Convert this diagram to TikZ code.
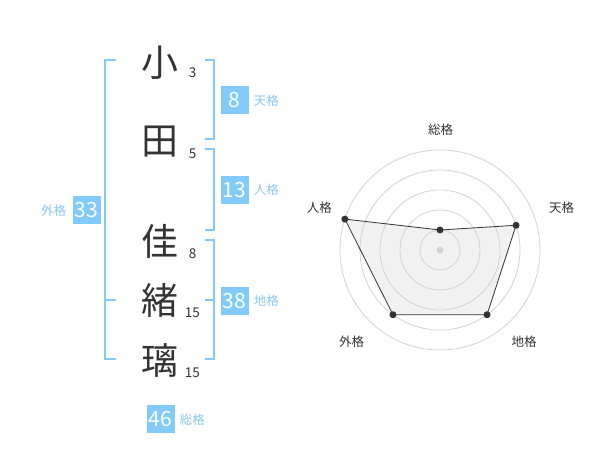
\documentclass[tikz,border=0pt]{standalone}
\usepackage{fontspec}
\setmainfont{Noto Sans CJK JP}
\definecolor{kakublue}{RGB}{130,202,250}
\definecolor{kakutext}{RGB}{135,200,242}
\definecolor{inkgray}{RGB}{51,51,51}
\definecolor{ringgray}{RGB}{210,210,210}
\definecolor{fillgray}{RGB}{241,241,241}
\usetikzlibrary{positioning}
\begin{document}
\begin{tikzpicture}[x=1pt,y=-1pt]
	\tikzstyle{every node}+=[inner sep=0pt]
	\tikzstyle{kanji}=[text=inkgray, font=\fontsize{37}{37}\selectfont]
	\tikzstyle{kakusu}=[text=inkgray, font=\fontsize{13.5}{13.5}\selectfont]
	\tikzstyle{kakubox}=[fill=kakublue, text=white, minimum size=28pt, font=\fontsize{21}{21}\selectfont]
	\tikzstyle{kakulabel}=[text=kakutext, font=\fontsize{12.5}{12.5}\selectfont]
	\tikzstyle{bracket}=[kakublue, line width=2pt]
	\tikzstyle{axislabel}=[text=inkgray, font=\fontsize{12.5}{12.5}\selectfont]
	\useasboundingbox (0,0) rectangle (600,470);
	
	% name
	\node[kanji] (ko) at (160,62.5) {小};
	\node[kanji] (ta) at (160,141.7) {田};
	\node[kanji] (ka) at (160,241) {佳};
	\node[kanji] (o) at (160,300) {緒};
	\node[kanji] (ri) at (160,360) {璃};
	\node[kakusu] (n1) at (192.7,72.7) {3};
	\node[kakusu] (n2) at (192.7,153.3) {5};
	\node[kakusu] (n3) at (192.7,253.3) {8};
	\node[kakusu] (n4) at (192.3,312.7) {15};
	\node[kakusu] (n5) at (192.3,372.7) {15};
	
	% brackets
	\draw[bracket] (116,60) -- (105,60) -- (105,359) -- (116,359);
	\draw[bracket] (105,300) -- (116,300);
	\draw[bracket] (205,60) -- (214,60) -- (214,139) -- (205,139);
	\draw[bracket] (205,149) -- (214,149) -- (214,230) -- (205,230);
	\draw[bracket] (205,240) -- (214,240) -- (214,359) -- (205,359);
	\draw[bracket] (205,300) -- (214,300);
	
	% boxes
	\node[kakubox] (gai) at (86.5,210.5) {33};
	\node[kakulabel, left=6pt of gai] {外格};
	\node[kakubox] (ten) at (234.5,100.3) {8};
	\node[kakulabel, right=5pt of ten] {天格};
	\node[kakubox] (jin) at (234.5,190) {13};
	\node[kakulabel, right=5pt of jin] {人格};
	\node[kakubox] (chi) at (234.5,300.7) {38};
	\node[kakulabel, right=5pt of chi] {地格};
	\node[kakubox] (sou) at (160.5,419.3) {46};
	\node[kakulabel, right=5pt of sou] {総格};
	
	% radar
	\begin{scope}[shift={(440,250)}, yscale=-1]
		\coordinate (psou) at (90:20);
		\coordinate (pten) at (18:80);
		\coordinate (pchi) at (-54:80);
		\coordinate (pgai) at (-126:80);
		\coordinate (pjin) at (162:100);
		\fill[fillgray] (psou) -- (pten) -- (pchi) -- (pgai) -- (pjin) -- cycle;
		\foreach \r in {20,40,...,100}
			\draw[ringgray, line width=0.8pt] (0,0) circle (\r);
		\fill[ringgray] (0,0) circle (3.5);
		\draw[inkgray, line width=0.8pt] (psou) -- (pten) -- (pchi) -- (pgai) -- (pjin) -- cycle;
		\foreach \p in {psou,pten,pchi,pgai,pjin}
			\fill[inkgray] (\p) circle (3.5);
	\end{scope}
	\node[axislabel] (lsou) at (440.7,130) {総格};
	\node[axislabel] (lten) at (561.7,208) {天格};
	\node[axislabel] (lchi) at (524,341.7) {地格};
	\node[axislabel] (lgai) at (351.7,341.7) {外格};
	\node[axislabel] (ljin) at (319.3,208) {人格};
\end{tikzpicture}
\end{document}
